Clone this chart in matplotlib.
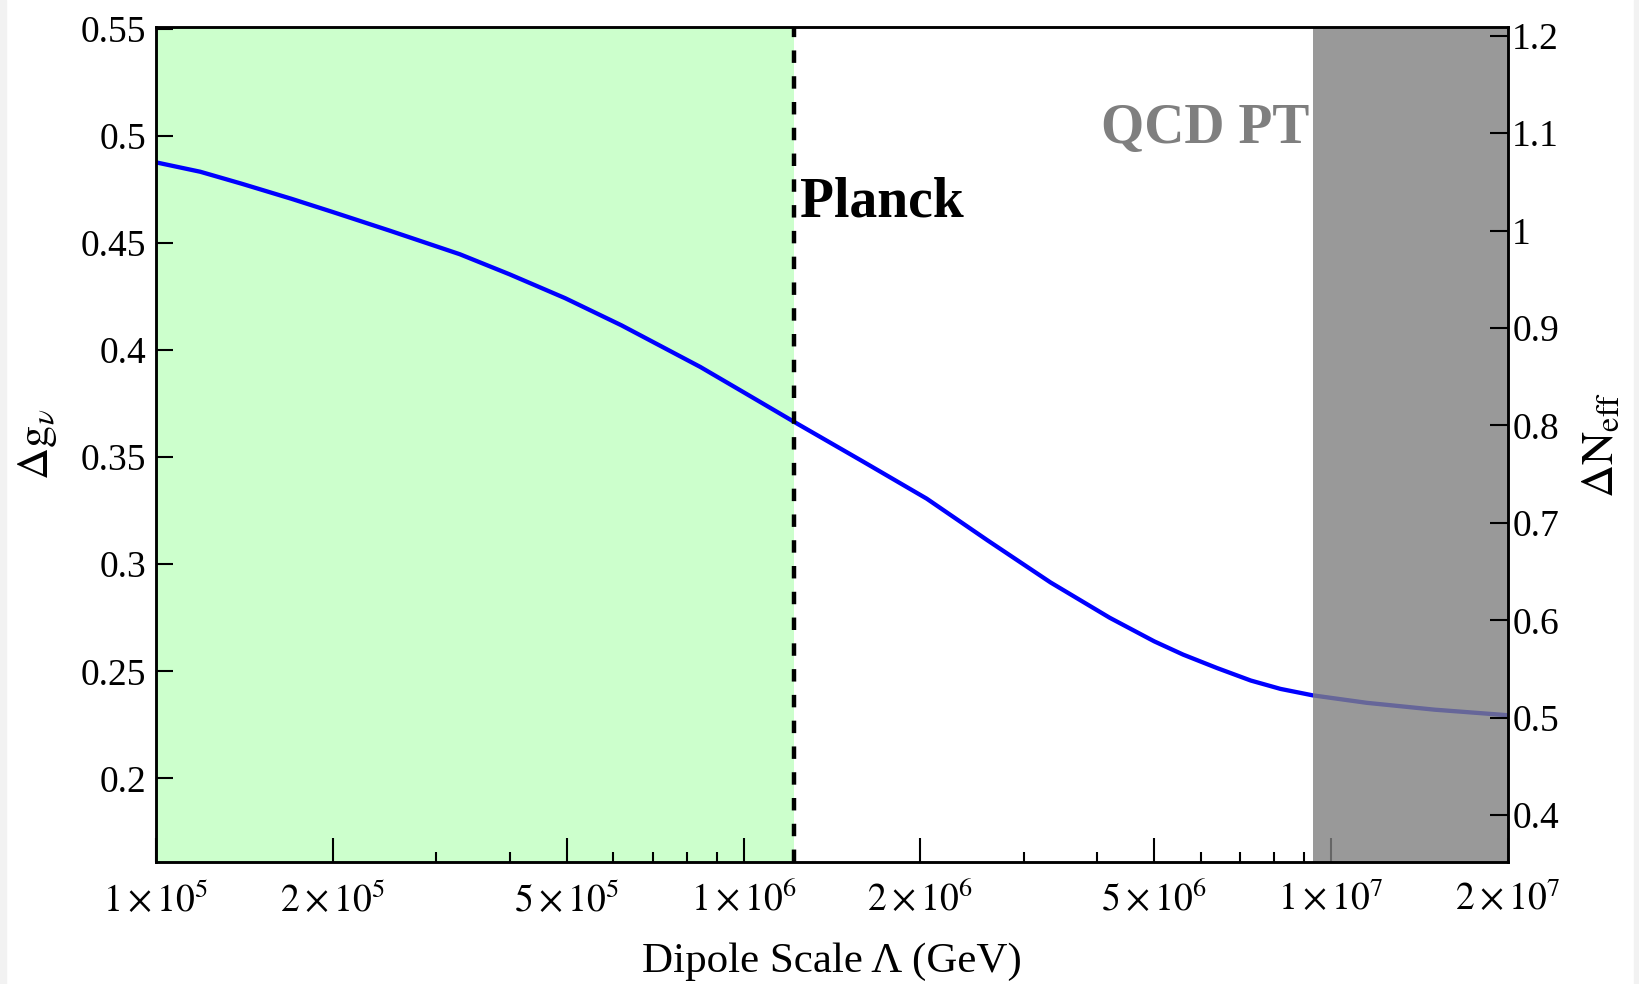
import matplotlib
matplotlib.use('Agg')
import matplotlib.pyplot as plt
import matplotlib.patches as patches
import numpy as np
from matplotlib.ticker import FixedLocator, FixedFormatter, NullFormatter

plt.rcParams['font.family'] = ['Liberation Serif', 'DejaVu Serif']
plt.rcParams['mathtext.fontset'] = 'stix'

# Dipole scale Lambda (GeV) and the resulting change in g
dipole_scale = np.array([1.0e5, 1.19e5, 1.4e5, 1.7e5, 2.0e5, 2.5e5, 3.29e5, 4.0e5,
                         4.97e5, 6.2e5, 8.44e5, 1.0e6, 1.22e6, 1.6e6, 2.05e6, 2.6e6,
                         3.33e6, 4.2e6, 5.0e6, 5.6e6, 6.4e6, 7.3e6, 8.2e6, 9.3e6,
                         1.15e7, 1.5e7, 2.0e7])
delta_g = np.array([0.4876, 0.4832, 0.4776, 0.4706, 0.4644, 0.4557, 0.4447, 0.4353,
                    0.4242, 0.4115, 0.3921, 0.3803, 0.3664, 0.3478, 0.3306, 0.3112,
                    0.2915, 0.2750, 0.2640, 0.2578, 0.2515, 0.2457, 0.2418, 0.2388,
                    0.2353, 0.2321, 0.2295])

planck_scale = 1.22e6     # Planck bound
qcd_pt_scale = 9.3e6      # QCD phase transition

x_major = [1e5, 2e5, 5e5, 1e6, 2e6, 5e6, 1e7, 2e7]
x_labels = [r'$1\times10^{5}$', r'$2\times10^{5}$', r'$5\times10^{5}$',
            r'$1\times10^{6}$', r'$2\times10^{6}$', r'$5\times10^{6}$',
            r'$1\times10^{7}$', r'$2\times10^{7}$']
x_minor = [3e5, 4e5, 6e5, 7e5, 8e5, 9e5, 3e6, 4e6, 6e6, 7e6, 8e6, 9e6]

left_ticks = [0.2, 0.25, 0.3, 0.35, 0.4, 0.45, 0.5, 0.55]
left_labels = ['0.2', '0.25', '0.3', '0.35', '0.4', '0.45', '0.5', '0.55']
right_ticks = [0.4, 0.5, 0.6, 0.7, 0.8, 0.9, 1.0, 1.1, 1.2]
right_labels = ['0.4', '0.5', '0.6', '0.7', '0.8', '0.9', '1', '1.1', '1.2']

fig = plt.figure(figsize=(16.4, 9.84), dpi=100)
ax = fig.add_axes([0.0951, 0.124, 0.8244, 0.8486])

# faint border strips at the image edges
for x0 in (0.0, 1 - 6 / 1640):
    fig.patches.append(patches.Rectangle((x0, 0), 6 / 1640, 1, transform=fig.transFigure,
                                         color='#f2f2f2', zorder=-10))

ax.set_xscale('log')
ax.set_xlim(1e5, 2e7)
ax.set_ylim(0.161, 0.5508)

# allowed (green) and excluded (gray) regions
ax.axvspan(1e5, planck_scale, color='#ccffcc', zorder=0, lw=0)
ax.plot(dipole_scale, delta_g, color='#0000ff', lw=3.1, zorder=2,
        solid_joinstyle='round', solid_capstyle='butt')
ax.axvspan(qcd_pt_scale, 2e7, color='#808080', alpha=0.8, zorder=3, lw=0)
ax.axvline(planck_scale, color='black', lw=3.2, linestyle=(0, (2.8, 3.0)), zorder=4)

ax.text(1.25e6, 0.4622, 'Planck', fontsize=40, fontweight='bold', color='black',
        va='baseline', ha='left', zorder=5)
ax.text(9.2e6, 0.4968, 'QCD PT', fontsize=40, fontweight='bold', color='#7f7f7f',
        va='baseline', ha='right', zorder=5)

# x axis ticks
ax.xaxis.set_major_locator(FixedLocator(x_major))
ax.xaxis.set_major_formatter(FixedFormatter(x_labels))
ax.xaxis.set_minor_locator(FixedLocator(x_minor))
ax.xaxis.set_minor_formatter(NullFormatter())
ax.tick_params(axis='x', which='major', direction='in', length=17, width=1.5,
               labelsize=27, pad=14, top=False)
ax.tick_params(axis='x', which='minor', direction='in', length=7, width=1.5, top=False)

# left y axis
ax.yaxis.set_major_locator(FixedLocator(left_ticks))
ax.yaxis.set_major_formatter(FixedFormatter(left_labels))
ax.tick_params(axis='y', direction='in', length=12, width=1.5, labelsize=27, pad=7,
               right=False)

for sp in ax.spines.values():
    sp.set_linewidth(1.8)
    sp.set_zorder(6)

ax.set_xlabel('Dipole Scale \u039b (GeV)', fontsize=31)
ax.xaxis.set_label_coords(0.5, -0.096)
ax.set_ylabel(r'$\Delta \mathrm{g}_{\nu}$', fontsize=32)
ax.yaxis.set_label_coords(-0.072, 0.5)

# right axis for Delta N_eff
ax2 = ax.twinx()
ax2.set_ylim(0.352, 1.209)
ax2.yaxis.set_major_locator(FixedLocator(right_ticks))
ax2.yaxis.set_major_formatter(FixedFormatter(right_labels))
ax2.tick_params(axis='y', direction='in', length=13, width=1.5, labelsize=27, pad=3)
for sp in ax2.spines.values():
    sp.set_linewidth(1.8)
ax2.set_ylabel(r'$\Delta \mathrm{N}_{\mathrm{eff}}$', fontsize=33, rotation=90)
ax2.yaxis.set_label_coords(1.054, 0.5)

fig.savefig('out.png', dpi=100)
